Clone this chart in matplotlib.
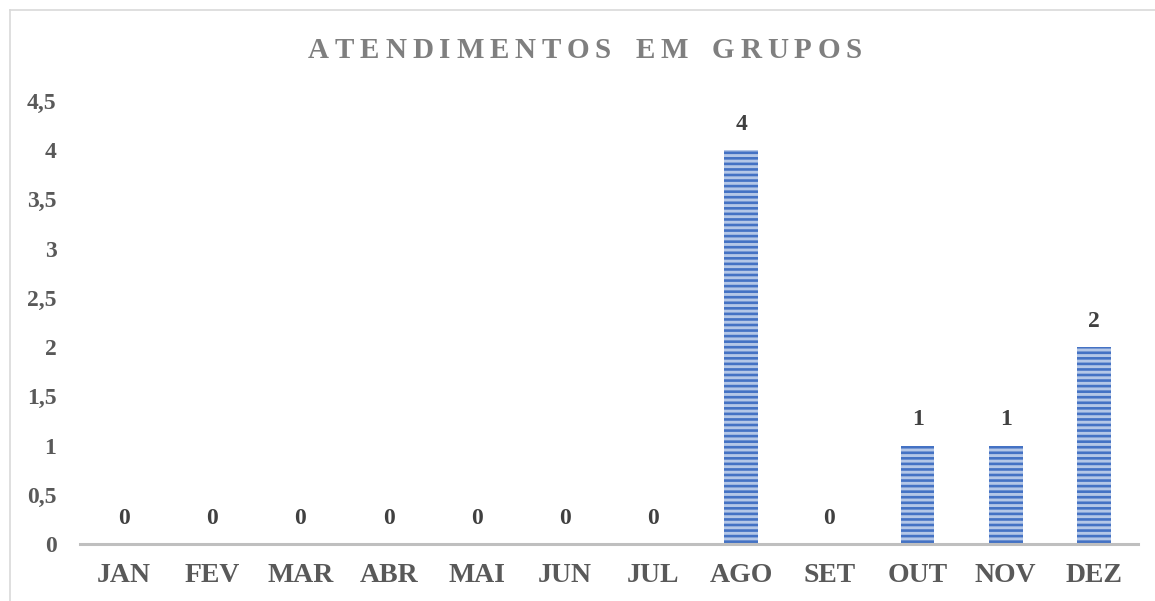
import matplotlib
matplotlib.use("Agg")
import matplotlib.pyplot as plt
from matplotlib.lines import Line2D

months = ["JAN", "FEV", "MAR", "ABR", "MAI", "JUN", "JUL", "AGO", "SET", "OUT", "NOV", "DEZ"]
values = [0, 0, 0, 0, 0, 0, 0, 4, 0, 1, 1, 2]
yticks = [0, 0.5, 1, 1.5, 2, 2.5, 3, 3.5, 4, 4.5]
ytick_labels = ["0", "0,5", "1", "1,5", "2", "2,5", "3", "3,5", "4", "4,5"]
title = "ATENDIMENTOS EM GRUPOS"

plt.rcParams['font.family'] = ['Liberation Serif', 'DejaVu Serif']
plt.rcParams['hatch.linewidth'] = 1.9

W, H = 1155, 601
fig = plt.figure(figsize=(W/100, H/100), dpi=100)
ax = fig.add_axes([80/W, 1-544/H, (1138-80)/W, (544-101)/H])

x = list(range(len(months)))
ax.bar(x, values, width=0.38, color='#b4c7e7', edgecolor='#4472c4',
       linewidth=0, hatch='---', zorder=2)

for xi, v in zip(x, values):
    ax.annotate(str(v), (xi, v), xytext=(0, 11), textcoords='offset points',
                ha='center', va='bottom', fontsize=17, fontweight='bold', color='#404040')

ax.set_xlim(-0.5, len(months) - 0.5)
ax.set_ylim(0, 4.5)
ax.set_xticks(x)
ax.set_xticklabels(months, fontsize=20, fontweight='bold', color='#595959')
ax.set_yticks(yticks)
ax.set_yticklabels(ytick_labels, fontsize=17, fontweight='bold', color='#595959')
ax.tick_params(axis='x', length=0, pad=14)
ax.tick_params(axis='y', length=0, pad=17)

for s in ['top', 'right', 'left']:
    ax.spines[s].set_visible(False)
ax.spines['bottom'].set_color('#bfbfbf')
ax.spines['bottom'].set_linewidth(2.2)
ax.spines['bottom'].set_zorder(3)

# letter-spaced title
renderer = fig.canvas.get_renderer()
tstyle = dict(fontsize=21, fontweight='bold', color='#7f7f7f', va='center', ha='left')
words = title.split(' ')
wwidths = []
for word in words:
    ws = []
    for ch in word:
        t = fig.text(0, 0, ch, **tstyle)
        ws.append(t.get_window_extent(renderer).width)
        t.remove()
    wwidths.append(ws)
start, end = 308, 862
word_gap = 24.0
letters_w = sum(sum(ws) for ws in wwidths)
n_track = sum(len(ws) - 1 for ws in wwidths)
track = (end - start - letters_w - word_gap * (len(words) - 1)) / n_track
xpos = start
for wi, (word, ws) in enumerate(zip(words, wwidths)):
    for ci, (ch, w) in enumerate(zip(word, ws)):
        fig.text(xpos / W, 1 - 50 / H, ch, **tstyle)
        xpos += w
        if ci < len(word) - 1:
            xpos += track
    xpos += word_gap

# chart frame (partially visible)
fig.add_artist(Line2D([10/W, 10/W], [0, 1-10/H], color='#d9d9d9', lw=1.2))
fig.add_artist(Line2D([10/W, 1], [1-10/H, 1-10/H], color='#d9d9d9', lw=1.2))

fig.savefig("out.png", dpi=100, facecolor='white')
